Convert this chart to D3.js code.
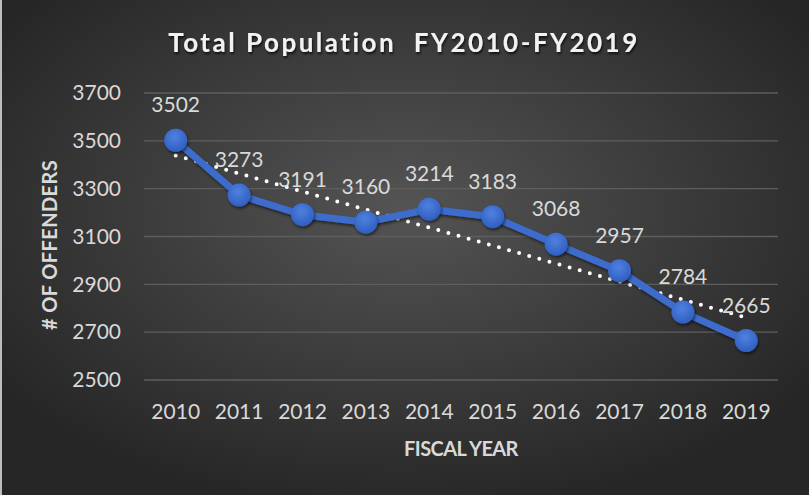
<!DOCTYPE html>
<html>
<head>
<meta charset="utf-8">
<script src="https://cdn.jsdelivr.net/npm/d3@7/dist/d3.min.js"></script>
<style>
  html, body { margin: 0; padding: 0; background: #262626; }
  svg { display: block; }
  text { font-family: Lato, "Open Sans", "DejaVu Sans", sans-serif; }
</style>
</head>
<body>
<svg id="chart" width="809" height="495"></svg>
<script>
// Fiscal years and total offender population
const years = ["2010", "2011", "2012", "2013", "2014", "2015", "2016", "2017", "2018", "2019"];
const population = [3502, 3273, 3191, 3160, 3214, 3183, 3068, 2957, 2784, 2665];
const yTicks = [2500, 2700, 2900, 3100, 3300, 3500, 3700];

const titleText = "Total Population  FY2010-FY2019";
const yTitle = "# OF OFFENDERS";
const xTitle = "FISCAL YEAR";

const W = 809, H = 495;
const margin = { left: 144, right: 31, top: 93, bottom: 115 };
const labelFont = "21px";

const svg = d3.select("#chart");
const defs = svg.append("defs");

// Dark backdrop, lighter toward the middle
const bg = defs.append("radialGradient").attr("id", "bg")
  .attr("cx", "50%").attr("cy", "42%").attr("r", "62%");
bg.append("stop").attr("offset", "0%").attr("stop-color", "#545454");
bg.append("stop").attr("offset", "100%").attr("stop-color", "#262626");

const mk = defs.append("radialGradient").attr("id", "mk")
  .attr("cx", "45%").attr("cy", "35%").attr("r", "65%");
mk.append("stop").attr("offset", "0%").attr("stop-color", "#4f80e0");
mk.append("stop").attr("offset", "100%").attr("stop-color", "#2f5fc0");

const sh = defs.append("filter").attr("id", "shadow")
  .attr("x", "-30%").attr("y", "-30%").attr("width", "160%").attr("height", "160%");
sh.append("feDropShadow").attr("dx", 1).attr("dy", 2).attr("stdDeviation", 1.6)
  .attr("flood-color", "#000").attr("flood-opacity", 0.55);

const tsh = defs.append("filter").attr("id", "tshadow")
  .attr("x", "-10%").attr("y", "-30%").attr("width", "120%").attr("height", "160%");
tsh.append("feDropShadow").attr("dx", 1).attr("dy", 2).attr("stdDeviation", 1.2)
  .attr("flood-color", "#000").attr("flood-opacity", 0.7);

svg.append("rect").attr("width", W).attr("height", H).attr("fill", "url(#bg)");
svg.append("rect").attr("x", 0).attr("y", 0).attr("width", 2).attr("height", H).attr("fill", "#bdbdbd");

const x = d3.scaleBand().domain(years)
  .range([margin.left, W - margin.right]).paddingInner(0).paddingOuter(0);
const y = d3.scaleLinear().domain([2500, 3700])
  .range([H - margin.bottom, margin.top]);

// Horizontal gridlines
svg.append("g")
  .selectAll("line").data(yTicks).join("line")
  .attr("x1", margin.left).attr("x2", W - margin.right)
  .attr("y1", d => y(d)).attr("y2", d => y(d))
  .attr("stroke", "#5e5e5e").attr("stroke-width", 1.3);

// Y axis labels
const yAxis = svg.append("g")
  .attr("transform", `translate(${margin.left - 23},0)`)
  .call(d3.axisLeft(y).tickValues(yTicks).tickFormat(d3.format("d")).tickSize(0).tickPadding(0));
yAxis.select(".domain").remove();
yAxis.selectAll("text")
  .attr("fill", "#d9d9d9").style("font-size", labelFont)
  .style("font-family", "Lato, 'Open Sans', sans-serif");

// X axis labels
const xAxis = svg.append("g")
  .attr("transform", `translate(0,${H - margin.bottom + 24})`)
  .call(d3.axisBottom(x).tickSize(0).tickPadding(0));
xAxis.select(".domain").remove();
xAxis.selectAll("text")
  .attr("fill", "#d9d9d9").style("font-size", labelFont)
  .style("font-family", "Lato, 'Open Sans', sans-serif");

const cx = d => x(d) + x.bandwidth() / 2;

// Linear trendline fitted to the series
const n = population.length;
const xs = d3.range(1, n + 1);
const mx = d3.mean(xs), my = d3.mean(population);
const slope = d3.sum(xs, (v, i) => (v - mx) * (population[i] - my)) /
              d3.sum(xs, v => (v - mx) * (v - mx));
const intercept = my - slope * mx;
svg.append("line")
  .attr("x1", cx(years[0])).attr("y1", y(intercept + slope * 1))
  .attr("x2", cx(years[n - 1])).attr("y2", y(intercept + slope * n))
  .attr("stroke", "#ffffff").attr("stroke-width", 4)
  .attr("stroke-linecap", "round").attr("stroke-dasharray", "0 10.5");

// Series line and markers
const line = d3.line().x((d, i) => cx(years[i])).y(d => y(d));
svg.append("path").datum(population)
  .attr("d", line).attr("fill", "none")
  .attr("stroke", "#3c6ccc").attr("stroke-width", 7)
  .attr("stroke-linejoin", "round")
  .attr("filter", "url(#shadow)");

svg.append("g").selectAll("circle").data(population).join("circle")
  .attr("cx", (d, i) => cx(years[i])).attr("cy", d => y(d))
  .attr("r", 11.5).attr("fill", "url(#mk)")
  .attr("filter", "url(#shadow)");

// Value labels
svg.append("g").selectAll("text").data(population).join("text")
  .attr("x", (d, i) => cx(years[i]))
  .attr("y", d => y(d) - 28)
  .attr("text-anchor", "middle")
  .attr("fill", "#d9d9d9").style("font-size", labelFont)
  .text(d => d);

// Titles
svg.append("text")
  .attr("x", 404).attr("y", 52)
  .attr("text-anchor", "middle")
  .attr("fill", "#f2f2f2").style("font-size", "26px").style("font-weight", "bold")
  .style("letter-spacing", "2.5px").attr("xml:space", "preserve")
  .attr("filter", "url(#tshadow)")
  .text(titleText);

svg.append("text")
  .attr("transform", `translate(57,${245}) rotate(-90)`)
  .attr("text-anchor", "middle")
  .attr("fill", "#d9d9d9").style("font-size", "20px").style("font-weight", "bold")
  .style("letter-spacing", "0.4px")
  .text(yTitle);

svg.append("text")
  .attr("x", (margin.left + W - margin.right) / 2).attr("y", 456)
  .attr("text-anchor", "middle")
  .attr("fill", "#d9d9d9").style("font-size", "20px").style("font-weight", "bold")
  .style("letter-spacing", "-0.6px")
  .text(xTitle);
</script>
</body>
</html>
